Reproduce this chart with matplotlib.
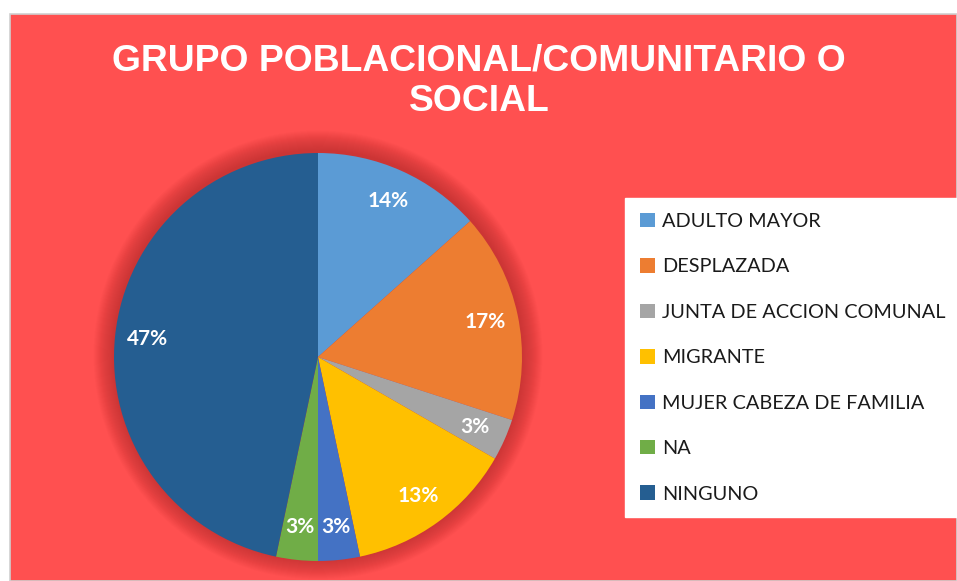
import matplotlib.pyplot as plt
from matplotlib.patches import Circle, Rectangle

categories = [
    "ADULTO MAYOR",
    "DESPLAZADA",
    "JUNTA DE ACCION COMUNAL",
    "MIGRANTE",
    "MUJER CABEZA DE FAMILIA",
    "NA",
    "NINGUNO",
]
# slice sizes (percent)
shares = [13.4, 16.6, 3.3, 13.4, 3.3, 3.3, 46.7]
# labels as printed on the chart
pct_text = ["14%", "17%", "3%", "13%", "3%", "3%", "47%"]
colors = ["#5B9BD5", "#ED7D31", "#A5A5A5", "#FFC000", "#4472C4", "#70AD47", "#255E91"]

title = "GRUPO POBLACIONAL/COMUNITARIO O\nSOCIAL"
bg_red = "#FF5050"

W, H = 957, 581
fig = plt.figure(figsize=(W / 100, H / 100), dpi=100)
fig.patch.set_facecolor("white")

# red chart area with thin grey border
fig.patches.append(Rectangle((10 / W, 0), 1 - 10 / W, 1 - 14 / H, transform=fig.transFigure,
                             facecolor=bg_red, edgecolor="#d0d0d0", linewidth=1.2, zorder=-5))

fig.text(479 / W, 1 - 81 / H, title, ha="center", va="center", color="white",
         fontsize=26.8, fontweight="bold", family="Liberation Sans", linespacing=1.22)

# pie axes: center (318, 357), radius 204 px
cx, cy, r = 318, 357, 204
pad = 1.15
ax = fig.add_axes([(cx - r * pad) / W, (H - cy - r * pad) / H, 2 * r * pad / W, 2 * r * pad / H])
ax.set_facecolor("none")
ax.set_zorder(2)

# soft shadow around the pie
n_sh = 20
for i in range(n_sh):
    ax.add_patch(Circle((0, 0.01), 1.0 + 0.005 * (n_sh - i), facecolor="#8a1818",
                        alpha=0.025, edgecolor="none", zorder=0))

wedges, _, autotexts = ax.pie(shares, colors=colors, startangle=90, counterclock=False,
                              radius=1, autopct="%1.0f%%", pctdistance=0.84,
                              wedgeprops=dict(linewidth=0.6, edgecolor="none"),
                              textprops=dict(color="white", fontsize=15, fontweight="bold",
                                             family="Lato"))
for t, s in zip(autotexts, pct_text):
    t.set_text(s)
ax.set_xlim(-pad, pad)
ax.set_ylim(-pad, pad)
ax.set_aspect("equal")
ax.axis("off")

leg = fig.legend(wedges, categories, loc="upper left",
                 bbox_to_anchor=(625 / W, 1 - 198 / H), bbox_transform=fig.transFigure,
                 frameon=True, fancybox=False, edgecolor="white", facecolor="white",
                 framealpha=1, prop=dict(family="Lato", size=14.3), handlelength=0.75,
                 handleheight=0.75, handletextpad=0.35, labelspacing=1.42,
                 borderpad=0.75, borderaxespad=0)
leg.set_zorder(3)
for txt in leg.get_texts():
    txt.set_color("#1a1a1a")

fig.savefig("out.png", dpi=100, facecolor=fig.get_facecolor())
